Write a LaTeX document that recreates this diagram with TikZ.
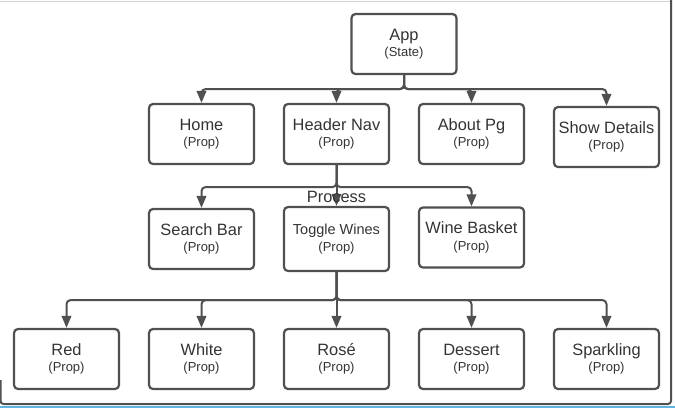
\documentclass[tikz,border=0pt]{standalone}
\usepackage{fontspec}
\setmainfont{Liberation Sans}
\usetikzlibrary{arrows.meta,trees}
\definecolor{linegray}{RGB}{80,80,80}
\definecolor{textgray}{RGB}{51,51,51}
\definecolor{framegray}{RGB}{210,210,210}
\definecolor{barblue}{RGB}{95,180,225}
\tikzset{
  compbox/.style = {shape=rectangle, rounded corners=4pt,
                    draw=linegray, line width=2.2pt, align=center,
                    text=textgray, inner sep=2pt,
                    minimum width=105pt, minimum height=60pt,
                    font=\fontsize{16.4}{16.5}\selectfont},
  appbox/.style  = {compbox},
  wire/.style    = {draw=linegray, line width=2pt, rounded corners=4pt, ->}
}
\newcommand{\comptext}[2]{#1\\{\fontsize{13}{16.5}\selectfont #2}}

\begin{document}
\begin{tikzpicture}[x=1pt,y=-1pt,>={Triangle[length=12pt,width=9.5pt]},
   edge from parent/.style={wire}]
\tikzstyle{level 1}=[sibling distance=135pt, level distance=90pt,
   edge from parent path={(\tikzparentnode.south) -- ++(0,-14pt) -| (\tikzchildnode.north)}]
\tikzstyle{level 2}=[sibling distance=135pt, level distance=105pt,
   edge from parent path={(\tikzparentnode.south) -- ++(0,-22pt) -| (\tikzchildnode.north)}]
\tikzstyle{level 3}=[sibling distance=135pt, level distance=120pt,
   edge from parent path={(\tikzparentnode.south) -- ++(0,-28pt) -| (\tikzchildnode.north)}]
\useasboundingbox (0,0) rectangle (675,408);
% canvas frame
\fill[barblue] (0,405.5) rectangle (675,408);
\draw[framegray, line width=1pt] (0,1) -- (671,1);
\draw[linegray, line width=2pt, rounded corners=3pt] (671,0) -- (671,404) -- (0.5,404) -- (0.5,380);
% tree
\node [appbox] (app) at (404,44) {\comptext{App}{(State)}}
child {node [compbox] (home) {\comptext{Home}{(Prop)}}}
child {node [compbox] (hnav) {\comptext{Header Nav}{(Prop)}}
  child {node [compbox] (search) {\comptext{Search Bar}{(Prop)}}}
  child {node [compbox, minimum height=64pt] (toggle)
      {\comptext{\fontsize{14.5}{16.5}\selectfont Toggle Wines}{(Prop)}}
    child {node [compbox] (red) {\comptext{Red}{(Prop)}}}
    child {node [compbox] (white) {\comptext{White}{(Prop)}}}
    child {node [compbox] (rose) {\comptext{Rosé}{(Prop)}}}
    child {node [compbox] (dessert) {\comptext{Dessert}{(Prop)}}}
    child {node [compbox] (sparkling) {\comptext{Sparkling}{(Prop)}}}
    edge from parent node [pos=0.75, text=textgray,
      font=\fontsize{16.4}{16.5}\selectfont] {Process}}
  child {node [compbox, yshift=1.5pt] (basket) {\comptext{Wine Basket}{(Prop)}}}}
child {node [compbox] (about) {\comptext{About Pg}{(Prop)}}}
child {node [compbox, yshift=-3pt] (details) {\comptext{Show Details}{(Prop)}}};
\end{tikzpicture}
\end{document}
